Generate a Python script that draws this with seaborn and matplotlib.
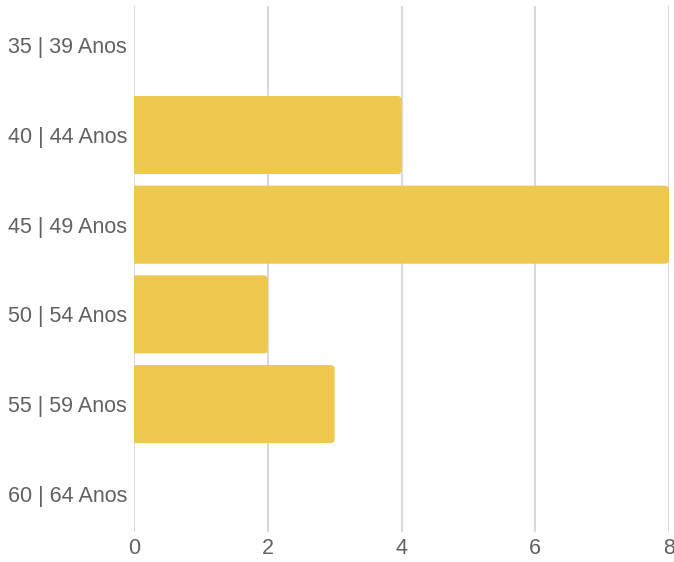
import matplotlib
matplotlib.use("Agg")
import matplotlib.pyplot as plt
from matplotlib.patches import FancyBboxPatch
import seaborn as sns
import pandas as pd

categories = ["35 | 39 Anos", "40 | 44 Anos", "45 | 49 Anos", "50 | 54 Anos", "55 | 59 Anos", "60 | 64 Anos"]
values = [0, 4, 8, 2, 3, 0]
xticks = [0, 2, 4, 6, 8]

bar_color = "#EEC84F"
grid_color = "#D9D9D9"
text_color = "#616161"

sns.set_theme(style="white")
plt.rcParams['font.family'] = ['Liberation Sans', 'DejaVu Sans']

df = pd.DataFrame({"cat": categories, "val": values})

fig = plt.figure(figsize=(6.74, 5.62), dpi=100)
W, H = 674, 562
ax = fig.add_axes([134 / W, 1 - 532 / H, (669 - 134) / W, (532 - 6) / H])

sns.barplot(data=df, x="val", y="cat", orient="h", color=bar_color,
            saturation=1, width=0.87, ax=ax, zorder=3)

ax.set_xlim(0, 8)
ax.set_ylim(5.426, -0.438)

# rounded right corners (left side extends past the axis and is clipped)
x_px = 535 / 8
y_px = 526 / 5.864
r = 4 / x_px
aspect = x_px / y_px
for p in list(ax.patches):
    w = p.get_width()
    x0, y0, h = p.get_x(), p.get_y(), p.get_height()
    p.remove()
    if w <= 0:
        continue
    fb = FancyBboxPatch((x0 - 3 * r, y0), w + 3 * r, h,
                        boxstyle=f"round,pad=0,rounding_size={r}",
                        mutation_aspect=aspect, facecolor=bar_color,
                        edgecolor="none", zorder=3, clip_on=True)
    ax.add_patch(fb)
    fb.set_clip_path(ax.patch)

ax.set_xticks(xticks)
ax.set_xticklabels([str(t) for t in xticks])
ax.grid(axis="x", color=grid_color, linewidth=1.5, zorder=0)
ax.grid(axis="y", visible=False)
for s in ax.spines.values():
    s.set_visible(False)
ax.tick_params(axis="both", length=0, labelsize=15.5, labelcolor=text_color)
ax.tick_params(axis="x", pad=4)
ax.tick_params(axis="y", pad=5)
ax.set_xlabel("")
ax.set_ylabel("")

fig.savefig("out.png", dpi=100)
